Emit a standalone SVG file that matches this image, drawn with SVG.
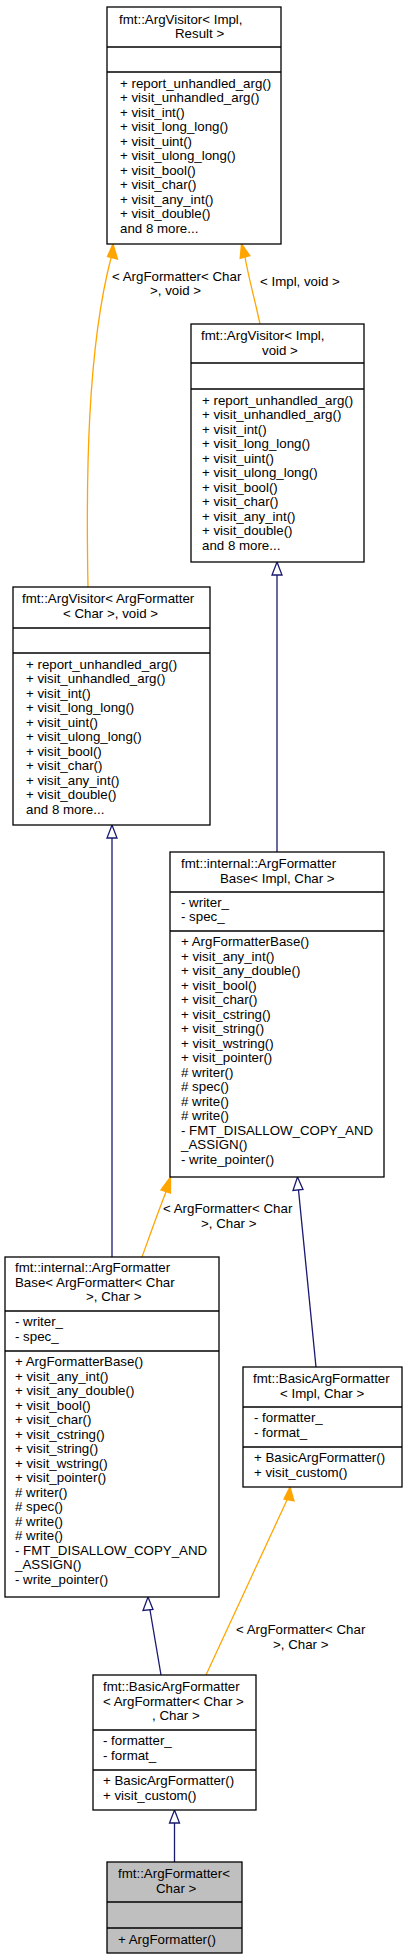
<svg xmlns="http://www.w3.org/2000/svg" width="407" height="1960" viewBox="0 0 407 1960">
<style>
text{font-family:"Liberation Sans",Arial,Helvetica,sans-serif;font-size:13.3px;fill:#000}
.box{fill:#fff;stroke:#000;stroke-width:1.3}
.root{fill:#bfbfbf;stroke:#000;stroke-width:1.3}
.div{stroke:#000;stroke-width:1.3}
.inh{fill:none;stroke:#191970;stroke-width:1.3}
.inhh{fill:#fff;stroke:#191970;stroke-width:1.3}
.tpl{fill:none;stroke:#ffa500;stroke-width:1.3}
.tplh{fill:#ffa500;stroke:#ffa500;stroke-width:1.3}
</style>
<rect width="407" height="1960" fill="#fff"/>

<g id="connectors">
  <!-- node3 -> node1 template -->
  <path class="tpl" d="M88,587 C86,480 87,350 111,258"/>
  <polygon class="tplh" points="113,244 117.5,259 107.5,256.5"/>
  <text x="112" y="281">&lt; ArgFormatter&lt; Char</text>
  <text x="150" y="295">&gt;, void &gt;</text>
  <!-- node2 -> node1 template -->
  <path class="tpl" d="M260,324 C255,300 249,280 245,257"/>
  <polygon class="tplh" points="241.5,244 249.8,255.7 240.2,258.3"/>
  <text x="260" y="286">&lt; Impl, void &gt;</text>
  <!-- node4 -> node2 inheritance -->
  <path class="inh" d="M277,575 L277,852"/>
  <polygon class="inhh" points="277,562 282,575 272,575"/>
  <!-- node5 -> node3 inheritance -->
  <path class="inh" d="M112,838 L112,1257"/>
  <polygon class="inhh" points="112,825 117,838 107,838"/>
  <!-- node5 -> node4 template -->
  <path class="tpl" d="M142,1257 C150,1235 158,1212 166,1192"/>
  <polygon class="tplh" points="170.5,1177 170.5,1193 161,1190"/>
  <text x="163" y="1213">&lt; ArgFormatter&lt; Char</text>
  <text x="201" y="1227.5">&gt;, Char &gt;</text>
  <!-- node6 -> node4 inheritance -->
  <path class="inh" d="M298.5,1190 L316,1367"/>
  <polygon class="inhh" points="297.5,1177 303,1189.5 293,1190.5"/>
  <!-- node7 -> node5 inheritance -->
  <path class="inh" d="M150,1610 L161,1675"/>
  <polygon class="inhh" points="148,1597 153,1609.5 143,1610.5"/>
  <!-- node7 -> node6 template -->
  <path class="tpl" d="M287,1500 L206,1675"/>
  <polygon class="tplh" points="290,1487 294,1501 284,1499"/>
  <text x="236" y="1634">&lt; ArgFormatter&lt; Char</text>
  <text x="273" y="1648.5">&gt;, Char &gt;</text>
  <!-- node8 -> node7 inheritance -->
  <path class="inh" d="M174.5,1823 L174.5,1862"/>
  <polygon class="inhh" points="174.5,1810 179.5,1823 169.5,1823"/>
</g>

<g id="node1">
  <rect class="box" x="107" y="7" width="174" height="237"/>
  <line class="div" x1="107" y1="47" x2="281" y2="47"/>
  <line class="div" x1="107" y1="72" x2="281" y2="72"/>
  <text x="119" y="23.5">fmt::ArgVisitor&lt; Impl,</text>
  <text x="175" y="38">Result &gt;</text>
  <text x="120" y="87.5">+ report_unhandled_arg()</text>
  <text x="120" y="102">+ visit_unhandled_arg()</text>
  <text x="120" y="116.5">+ visit_int()</text>
  <text x="120" y="131">+ visit_long_long()</text>
  <text x="120" y="145.5">+ visit_uint()</text>
  <text x="120" y="160">+ visit_ulong_long()</text>
  <text x="120" y="174.5">+ visit_bool()</text>
  <text x="120" y="189">+ visit_char()</text>
  <text x="120" y="203.5">+ visit_any_int()</text>
  <text x="120" y="218">+ visit_double()</text>
  <text x="120" y="232.5">and 8 more...</text>
</g>

<g id="node2">
  <rect class="box" x="191" y="324" width="173" height="238"/>
  <line class="div" x1="191" y1="363" x2="364" y2="363"/>
  <line class="div" x1="191" y1="389" x2="364" y2="389"/>
  <text x="201" y="340">fmt::ArgVisitor&lt; Impl,</text>
  <text x="262" y="354.5">void &gt;</text>
  <text x="202" y="404.5">+ report_unhandled_arg()</text>
  <text x="202" y="419">+ visit_unhandled_arg()</text>
  <text x="202" y="433.5">+ visit_int()</text>
  <text x="202" y="448">+ visit_long_long()</text>
  <text x="202" y="462.5">+ visit_uint()</text>
  <text x="202" y="477">+ visit_ulong_long()</text>
  <text x="202" y="491.5">+ visit_bool()</text>
  <text x="202" y="506">+ visit_char()</text>
  <text x="202" y="520.5">+ visit_any_int()</text>
  <text x="202" y="535">+ visit_double()</text>
  <text x="202" y="549.5">and 8 more...</text>
</g>

<g id="node3">
  <rect class="box" x="13" y="587" width="197" height="238"/>
  <line class="div" x1="13" y1="628" x2="210" y2="628"/>
  <line class="div" x1="13" y1="653" x2="210" y2="653"/>
  <text x="22" y="603">fmt::ArgVisitor&lt; ArgFormatter</text>
  <text x="63" y="617.5">&lt; Char &gt;, void &gt;</text>
  <text x="26" y="668.5">+ report_unhandled_arg()</text>
  <text x="26" y="683">+ visit_unhandled_arg()</text>
  <text x="26" y="697.5">+ visit_int()</text>
  <text x="26" y="712">+ visit_long_long()</text>
  <text x="26" y="726.5">+ visit_uint()</text>
  <text x="26" y="741">+ visit_ulong_long()</text>
  <text x="26" y="755.5">+ visit_bool()</text>
  <text x="26" y="770">+ visit_char()</text>
  <text x="26" y="784.5">+ visit_any_int()</text>
  <text x="26" y="799">+ visit_double()</text>
  <text x="26" y="813.5">and 8 more...</text>
</g>

<g id="node4">
  <rect class="box" x="170" y="852" width="214" height="325"/>
  <line class="div" x1="170" y1="892" x2="384" y2="892"/>
  <line class="div" x1="170" y1="931" x2="384" y2="931"/>
  <text x="181" y="868">fmt::internal::ArgFormatter</text>
  <text x="220" y="882.5">Base&lt; Impl, Char &gt;</text>
  <text x="181" y="906.5">- writer_</text>
  <text x="181" y="921">- spec_</text>
  <text x="181" y="946">+ ArgFormatterBase()</text>
  <text x="181" y="960.5">+ visit_any_int()</text>
  <text x="181" y="975">+ visit_any_double()</text>
  <text x="181" y="989.5">+ visit_bool()</text>
  <text x="181" y="1004">+ visit_char()</text>
  <text x="181" y="1018.5">+ visit_cstring()</text>
  <text x="181" y="1033">+ visit_string()</text>
  <text x="181" y="1047.5">+ visit_wstring()</text>
  <text x="181" y="1062">+ visit_pointer()</text>
  <text x="181" y="1076.5"># writer()</text>
  <text x="181" y="1091"># spec()</text>
  <text x="181" y="1105.5"># write()</text>
  <text x="181" y="1120"># write()</text>
  <text x="181" y="1134.5">- FMT_DISALLOW_COPY_AND</text>
  <text x="181" y="1149">_ASSIGN()</text>
  <text x="181" y="1163.5">- write_pointer()</text>
</g>

<g id="node5">
  <rect class="box" x="5" y="1257" width="214" height="340"/>
  <line class="div" x1="5" y1="1311" x2="219" y2="1311"/>
  <line class="div" x1="5" y1="1351" x2="219" y2="1351"/>
  <text x="15" y="1272">fmt::internal::ArgFormatter</text>
  <text x="15" y="1286.5">Base&lt; ArgFormatter&lt; Char</text>
  <text x="86" y="1301">&gt;, Char &gt;</text>
  <text x="15" y="1326">- writer_</text>
  <text x="15" y="1340.5">- spec_</text>
  <text x="15" y="1366">+ ArgFormatterBase()</text>
  <text x="15" y="1380.5">+ visit_any_int()</text>
  <text x="15" y="1395">+ visit_any_double()</text>
  <text x="15" y="1409.5">+ visit_bool()</text>
  <text x="15" y="1424">+ visit_char()</text>
  <text x="15" y="1438.5">+ visit_cstring()</text>
  <text x="15" y="1453">+ visit_string()</text>
  <text x="15" y="1467.5">+ visit_wstring()</text>
  <text x="15" y="1482">+ visit_pointer()</text>
  <text x="15" y="1496.5"># writer()</text>
  <text x="15" y="1511"># spec()</text>
  <text x="15" y="1525.5"># write()</text>
  <text x="15" y="1540"># write()</text>
  <text x="15" y="1554.5">- FMT_DISALLOW_COPY_AND</text>
  <text x="15" y="1569">_ASSIGN()</text>
  <text x="15" y="1583.5">- write_pointer()</text>
</g>

<g id="node6">
  <rect class="box" x="243" y="1367" width="159" height="120"/>
  <line class="div" x1="243" y1="1407" x2="402" y2="1407"/>
  <line class="div" x1="243" y1="1447" x2="402" y2="1447"/>
  <text x="253" y="1383">fmt::BasicArgFormatter</text>
  <text x="280" y="1397.5">&lt; Impl, Char &gt;</text>
  <text x="254" y="1422">- formatter_</text>
  <text x="254" y="1436.5">- format_</text>
  <text x="254" y="1462">+ BasicArgFormatter()</text>
  <text x="254" y="1476.5">+ visit_custom()</text>
</g>

<g id="node7">
  <rect class="box" x="93" y="1675" width="163" height="135"/>
  <line class="div" x1="93" y1="1730" x2="256" y2="1730"/>
  <line class="div" x1="93" y1="1770" x2="256" y2="1770"/>
  <text x="103" y="1691">fmt::BasicArgFormatter</text>
  <text x="103" y="1705.5">&lt; ArgFormatter&lt; Char &gt;</text>
  <text x="152" y="1720">, Char &gt;</text>
  <text x="103" y="1745">- formatter_</text>
  <text x="103" y="1759.5">- format_</text>
  <text x="103" y="1785">+ BasicArgFormatter()</text>
  <text x="103" y="1799.5">+ visit_custom()</text>
</g>

<g id="node8">
  <rect class="root" x="107" y="1862" width="135" height="91"/>
  <line class="div" x1="107" y1="1902" x2="242" y2="1902"/>
  <line class="div" x1="107" y1="1928" x2="242" y2="1928"/>
  <text x="118" y="1878">fmt::ArgFormatter&lt;</text>
  <text x="156" y="1892.5">Char &gt;</text>
  <text x="118" y="1944">+ ArgFormatter()</text>
</g>
</svg>
